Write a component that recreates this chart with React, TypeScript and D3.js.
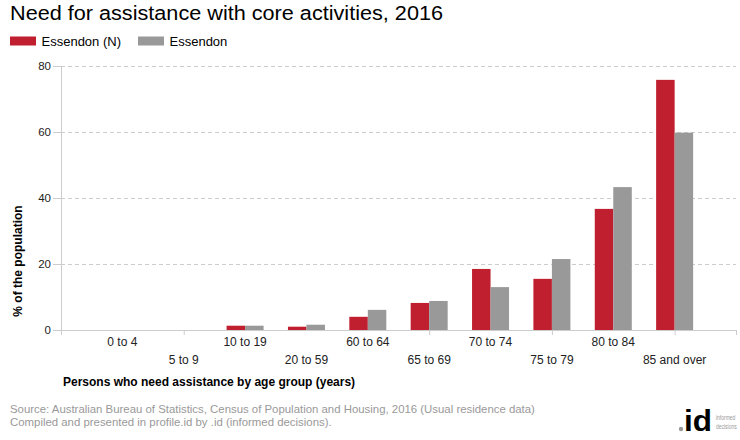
import React from "react";
import * as d3 from "d3";

const categories = ["0 to 4", "5 to 9", "10 to 19", "20 to 59", "60 to 64", "65 to 69", "70 to 74", "75 to 79", "80 to 84", "85 and over"];
const seriesNames = ["Essendon (N)", "Essendon"];
const essendonN = [0, 0, 1.3, 1.0, 4.0, 8.2, 18.5, 15.5, 36.7, 75.8];
const essendon = [0, 0, 1.3, 1.6, 6.1, 8.8, 13.0, 21.5, 43.3, 59.8];
const yTicks = [0, 20, 40, 60, 80];
const tickSlots = [0, 2, 6, 8, 10, 11];
const colors = ["#C01F2F", "#999999"];

const W = 740, H = 440;
const left = 61, right = 736, top = 66, bottom = 330;
const font = "Arial, 'Liberation Sans', sans-serif";

export default function App() {
  const x = d3.scalePoint<string>().domain(categories).range([left, right]).padding(1);
  const step = x.step();
  const y = d3.scaleLinear().domain([0, 80]).range([bottom, top]);
  const bw = 18.5;
  const series = [essendonN, essendon];

  return (
    <svg width={W} height={H} style={{ position: "absolute", left: 0, top: 0, background: "#fff" }} fontFamily={font}>
      <rect width={W} height={H} fill="#fff" />
      <text x={10} y={20} fontSize={20} fill="#000" textLength={433} lengthAdjust="spacingAndGlyphs">Need for assistance with core activities, 2016</text>
      {seriesNames.map((n, i) => (
        <g key={n} transform={`translate(${i === 0 ? 10 : 138},0)`}>
          <rect x={0} y={36.5} width={26} height={9} fill={colors[i]} />
          <text x={31.5} y={45.5} fontSize={13} fill="#000">{n}</text>
        </g>
      ))}
      {yTicks.map((t) => (
        <g key={t}>
          {t > 0 && (
            <line x1={left} x2={right} y1={Math.round(y(t)) + 0.5} y2={Math.round(y(t)) + 0.5} stroke="#cccccc" strokeDasharray="4,3" />
          )}
          <line x1={53} x2={left} y1={Math.round(y(t)) + 0.5} y2={Math.round(y(t)) + 0.5} stroke="#cccccc" />
          <text x={51} y={y(t) + 4} fontSize={11.5} textAnchor="end" fill="#222">{t}</text>
        </g>
      ))}
      <line x1={left + 0.5} x2={left + 0.5} y1={top} y2={bottom} stroke="#cccccc" />
      {categories.map((c, i) => (
        <g key={c}>
          {series.map((s, k) => (
            <rect key={k} x={x(c)! - bw + k * bw} y={y(s[i])} width={bw} height={bottom - y(s[i])} fill={colors[k]} />
          ))}
        </g>
      ))}
      <line x1={left} x2={right} y1={bottom + 0.5} y2={bottom + 0.5} stroke="#cccccc" />
      {tickSlots.map((j) => (
        <line key={j} x1={left + j * step + 0.5} x2={left + j * step + 0.5} y1={bottom} y2={bottom + 5} stroke="#cccccc" />
      ))}
      {categories.map((c, i) => (
        <text key={c} x={x(c)} y={i % 2 === 0 ? 346 : 364} fontSize={12} textAnchor="middle" fill="#222">{c}</text>
      ))}
      <text x={63} y={386} fontSize={12} fontWeight="bold" fill="#000">Persons who need assistance by age group (years)</text>
      <text transform="translate(22,261) rotate(-90)" fontSize={12} fontWeight="bold" textAnchor="middle" fill="#000">% of the population</text>
      <text x={10} y={413} fontSize={11.4} fill="#999">Source: Australian Bureau of Statistics, Census of Population and Housing, 2016 (Usual residence data)</text>
      <text x={10} y={426} fontSize={11.4} fill="#999">Compiled and presented in profile.id by .id (informed decisions).</text>
      <g>
        <circle cx={681} cy={429} r={2.2} fill="#999" />
        <text x={684} y={431} fontSize={30} fontWeight="bold" fill="#000" textLength={28} lengthAdjust="spacingAndGlyphs">id</text>
        <text transform="translate(716,420) scale(0.62,1)" fontSize={8} fill="#999">informed</text>
        <text transform="translate(716,429) scale(0.62,1)" fontSize={8} fill="#999">decisions</text>
      </g>
    </svg>
  );
}
